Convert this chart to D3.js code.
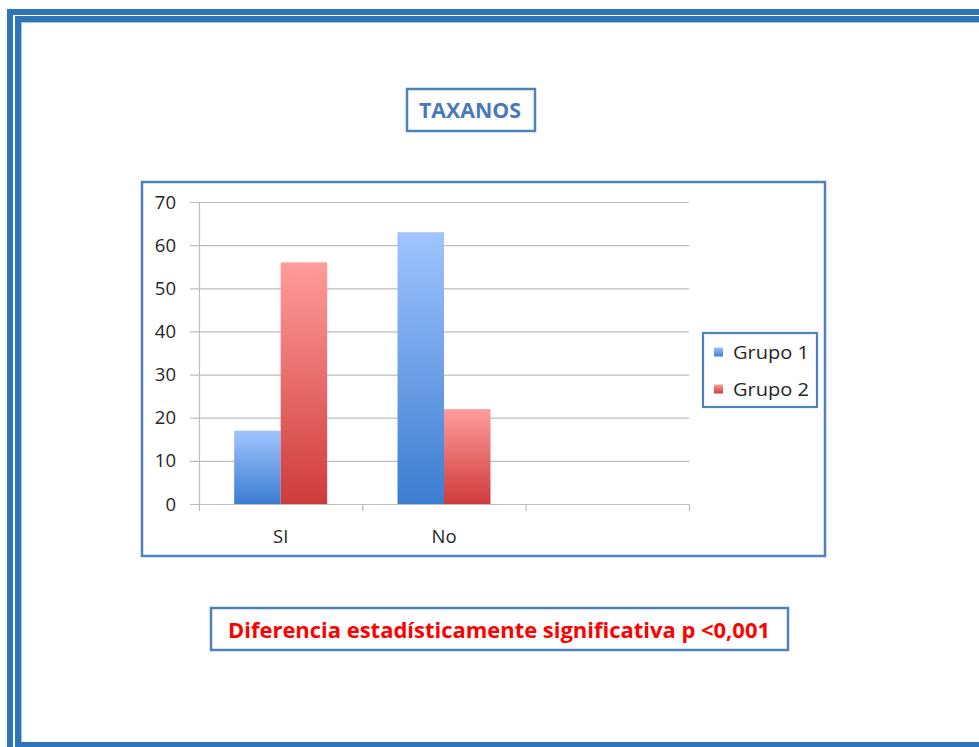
<!DOCTYPE html>
<html>
<head>
<meta charset="utf-8">
<script src="https://cdn.jsdelivr.net/npm/d3@7"></script>
<style>
  html, body { margin: 0; padding: 0; background: #ffffff; }
  svg { display: block; }
</style>
</head>
<body>
<script>
// Chart data
const categories = ["SI", "No", ""];
const seriesNames = ["Grupo 1", "Grupo 2"];
const grupo1 = [17, 63, null];
const grupo2 = [56, 22, null];
const yTicks = [0, 10, 20, 30, 40, 50, 60, 70];
const titleText = "TAXANOS";
const noteText = "Diferencia estadísticamente significativa p <0,001";

const W = 979, H = 747;
const frameBlue = "#2e75b6";
const boxBlue = "#4f81bd";
const font = "'Open Sans', 'Liberation Sans', sans-serif";
const labelSize = 18.5;

const svg = d3.select("body").append("svg")
  .attr("width", W).attr("height", H);

// Gradients for bar fills
const defs = svg.append("defs");
const grads = [
  { id: "gBlue", top: "#a0c4ff", bottom: "#3c7dd0" },
  { id: "gRed", top: "#ff9c9c", bottom: "#cf3b3b" }
];
grads.forEach(g => {
  const lg = defs.append("linearGradient").attr("id", g.id)
    .attr("x1", 0).attr("y1", 0).attr("x2", 0).attr("y2", 1);
  lg.append("stop").attr("offset", "0%").attr("stop-color", g.top);
  lg.append("stop").attr("offset", "100%").attr("stop-color", g.bottom);
});
const softBox = defs.append("filter").attr("id", "soft")
  .attr("x", "-5%").attr("y", "-5%").attr("width", "110%").attr("height", "110%");
softBox.append("feGaussianBlur").attr("stdDeviation", 0.6);

// Page frame: two thick blue borders
svg.append("rect").attr("x", 10).attr("y", 12).attr("width", 1200).attr("height", 1200)
  .attr("fill", "none").attr("stroke", frameBlue).attr("stroke-width", 6);
svg.append("rect").attr("x", 18).attr("y", 19).attr("width", 1200).attr("height", 726)
  .attr("fill", "none").attr("stroke", frameBlue).attr("stroke-width", 6);
svg.append("line").attr("x1", 21.5).attr("x2", 21.5).attr("y1", 22).attr("y2", 742)
  .attr("stroke", "#9dc3e6").attr("stroke-width", 1);
svg.append("line").attr("x1", 22).attr("x2", W).attr("y1", 22.5).attr("y2", 22.5)
  .attr("stroke", "#9dc3e6").attr("stroke-width", 1);

// Title box
svg.append("rect").attr("x", 407).attr("y", 89).attr("width", 128).attr("height", 42)
  .attr("fill", "#fff").attr("stroke", boxBlue).attr("stroke-width", 2.5).attr("filter", "url(#soft)");
svg.append("text").attr("x", 470).attr("y", 118)
  .attr("text-anchor", "middle").attr("font-family", font).attr("font-weight", "bold")
  .attr("font-size", 20.5).attr("fill", "#4a78bd")
  .attr("textLength", 102).attr("lengthAdjust", "spacingAndGlyphs")
  .text(titleText);

// Chart box
svg.append("rect").attr("x", 142).attr("y", 182).attr("width", 683).attr("height", 374)
  .attr("fill", "#fff").attr("stroke", boxBlue).attr("stroke-width", 2.5).attr("filter", "url(#soft)");

const plot = { left: 199, right: 689, top: 202, bottom: 504 };
const x = d3.scaleBand().domain(d3.range(categories.length))
  .range([plot.left, plot.right]).paddingInner(0).paddingOuter(0);
const y = d3.scaleLinear().domain([0, 70]).range([plot.bottom, plot.top]);

const g = svg.append("g");

// Gridlines
g.selectAll("line.grid").data(yTicks).enter().append("line")
  .attr("x1", plot.left - 9).attr("x2", plot.right)
  .attr("y1", d => y(d) + 0.5).attr("y2", d => y(d) + 0.5)
  .attr("stroke", "#bdbdbd").attr("stroke-width", 1.2);

// Y axis line
g.append("line").attr("x1", plot.left + 0.5).attr("x2", plot.left + 0.5)
  .attr("y1", plot.top).attr("y2", plot.bottom + 7)
  .attr("stroke", "#bdbdbd").attr("stroke-width", 1.2);

// Category tick marks
const catTicks = d3.range(categories.length + 1).map(i => plot.left + i * x.bandwidth());
g.selectAll("line.ctick").data(catTicks.slice(1)).enter().append("line")
  .attr("x1", d => d + 0.5).attr("x2", d => d + 0.5)
  .attr("y1", plot.bottom).attr("y2", plot.bottom + 7)
  .attr("stroke", "#bdbdbd").attr("stroke-width", 1.2);

// Y tick labels
g.selectAll("text.ylab").data(yTicks).enter().append("text")
  .attr("x", 176).attr("y", d => y(d) + 6.5)
  .attr("text-anchor", "end").attr("font-family", font).attr("font-size", labelSize)
  .attr("fill", "#262626").text(d => d);

// Category labels
g.selectAll("text.xlab").data(categories).enter().append("text")
  .attr("x", (d, i) => x(i) + x.bandwidth() / 2).attr("y", 543)
  .attr("text-anchor", "middle").attr("font-family", font).attr("font-size", labelSize)
  .attr("fill", "#262626").text(d => d);

// Bars
const barW = 46.5;
const series = [
  { values: grupo1, fill: "url(#gBlue)", offset: -barW },
  { values: grupo2, fill: "url(#gRed)", offset: 0 }
];
series.forEach(s => {
  const data = s.values.map((v, i) => ({ v, i })).filter(d => d.v != null);
  g.selectAll(null).data(data).enter().append("rect")
    .attr("x", d => x(d.i) + x.bandwidth() / 2 + s.offset)
    .attr("y", d => y(d.v))
    .attr("width", barW)
    .attr("height", d => y(0) - y(d.v))
    .attr("fill", s.fill);
});

// Legend
svg.append("rect").attr("x", 703).attr("y", 333).attr("width", 114).attr("height", 74)
  .attr("fill", "#fff").attr("stroke", boxBlue).attr("stroke-width", 2.2).attr("filter", "url(#soft)");
const legendFills = ["url(#gBlue)", "url(#gRed)"];
seriesNames.forEach((name, i) => {
  const cy = 352 + i * 37;
  svg.append("rect").attr("x", 714).attr("y", cy - 4.5).attr("width", 9).attr("height", 9)
    .attr("fill", legendFills[i]);
  svg.append("text").attr("x", 733).attr("y", cy + 6.5)
    .attr("font-family", font).attr("font-size", labelSize).attr("fill", "#262626")
    .attr("textLength", 76).attr("lengthAdjust", "spacingAndGlyphs")
    .text(name);
});

// Significance note
svg.append("rect").attr("x", 211).attr("y", 608).attr("width", 577).attr("height", 42)
  .attr("fill", "#fff").attr("stroke", boxBlue).attr("stroke-width", 2.5).attr("filter", "url(#soft)");
svg.append("text").attr("x", 499).attr("y", 638)
  .attr("text-anchor", "middle").attr("font-family", font).attr("font-weight", "bold")
  .attr("font-size", 21.5).attr("fill", "#ff0000")
  .attr("textLength", 542).attr("lengthAdjust", "spacingAndGlyphs")
  .text(noteText);
</script>
</body>
</html>
